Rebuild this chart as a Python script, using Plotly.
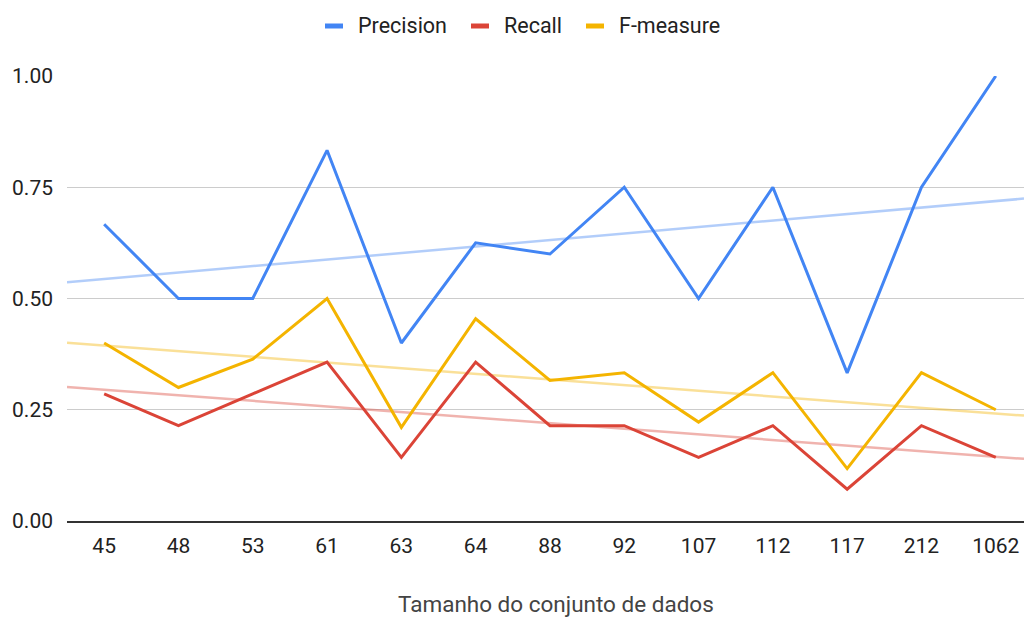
import numpy as np
import plotly.graph_objects as go

# Dataset sizes (categorical x axis) and metric values per dataset
sizes = ["45", "48", "53", "61", "63", "64", "88", "92", "107", "112", "117", "212", "1062"]
precision = [0.667, 0.5, 0.5, 0.833, 0.4, 0.625, 0.6, 0.75, 0.5, 0.75, 0.333, 0.75, 1.0]
recall = [0.2857, 0.2143, 0.2857, 0.3571, 0.1429, 0.3571, 0.2143, 0.2143, 0.1429, 0.2143, 0.0714, 0.2143, 0.1429]
f_measure = [0.4, 0.3, 0.3636, 0.5, 0.2105, 0.4545, 0.3158, 0.3333, 0.2222, 0.3333, 0.1176, 0.3333, 0.25]

series = [
    ("Precision", precision, "#4285F4"),
    ("Recall", recall, "#DB4437"),
    ("F-measure", f_measure, "#F4B400"),
]

W, H = 1024, 619
ML, MT, MB = 67, 76, 98
plot_w, plot_h = W - ML, H - MT - MB

def px_x(p):
    return (p - ML) / plot_w

def px_y(p):
    return (H - MB - p) / plot_h

idx = np.arange(len(sizes))
x_range = [-0.5, 12.38]

fig = go.Figure()

# Linear trendlines fitted over category index, spanning the whole plot width
for name, vals, color in series:
    slope, intercept = np.polyfit(idx, vals, 1)
    xs = np.array(x_range)
    fig.add_trace(go.Scatter(
        x=xs, y=slope * xs + intercept, mode="lines",
        line=dict(color=color, width=2.5), opacity=0.4,
        showlegend=False, hoverinfo="skip",
    ))

for name, vals, color in series:
    fig.add_trace(go.Scatter(
        x=idx, y=vals, mode="lines", name=name,
        line=dict(color=color, width=3), showlegend=False,
    ))

# Legend row at the top: short flat swatch followed by the series name
legend_swatch_left = [325, 471, 586]
legend_y = 26
for (name, vals, color), left in zip(series, legend_swatch_left):
    fig.add_shape(type="rect", xref="paper", yref="paper",
                  x0=px_x(left), x1=px_x(left + 18),
                  y0=px_y(legend_y + 2.5), y1=px_y(legend_y - 2.5),
                  fillcolor=color, line=dict(width=0))
    fig.add_annotation(xref="paper", yref="paper", x=px_x(left + 31), y=px_y(legend_y),
                       text=name, showarrow=False, xanchor="left", yanchor="middle",
                       font=dict(family="Roboto", size=21.5, color="#222222"))

# X-axis title
fig.add_annotation(xref="paper", yref="paper", x=px_x(556), y=px_y(604),
                   text="Tamanho do conjunto de dados", showarrow=False,
                   xanchor="center", yanchor="middle",
                   font=dict(family="Roboto", size=22.5, color="#444444"))

fig.update_layout(
    width=W, height=H,
    margin=dict(l=ML, r=0, t=MT, b=MB),
    paper_bgcolor="white", plot_bgcolor="white",
    font=dict(family="Roboto", size=21, color="#222222"),
    showlegend=False,
    xaxis=dict(
        range=x_range, tickmode="array", tickvals=idx, ticktext=sizes,
        showgrid=False, showline=True, linecolor="#333333", linewidth=1.5,
        ticks="", zeroline=False, ticklabelstandoff=5,
    ),
    yaxis=dict(
        range=[0, 1.0], tickvals=[0, 0.25, 0.5, 0.75, 1.0], tickformat=".2f",
        gridcolor="#cccccc", gridwidth=1, zeroline=False, ticks="",
        ticklabelstandoff=13,
    ),
)

fig.write_html("out.html")
